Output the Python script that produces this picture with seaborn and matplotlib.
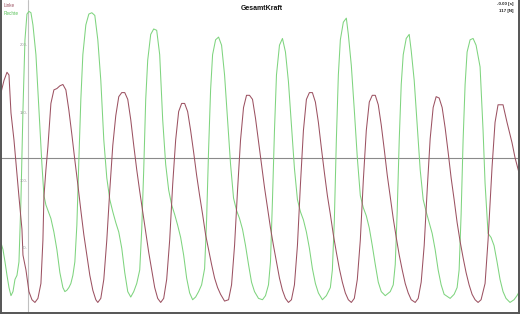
import matplotlib
matplotlib.use("Agg")
import matplotlib.pyplot as plt
import seaborn as sns
import pandas as pd

# time axis in samples, force in N
rechte_t = [0, 2, 4, 6, 8, 10, 12, 14, 16, 18, 20, 22, 24, 26, 28, 30, 32, 35, 38, 41, 43, 45, 47, 50, 53, 56, 59, 62, 64, 66, 68, 70, 72, 74, 76, 78, 80, 82, 85, 88, 91, 94, 97, 100, 103, 106, 109, 112, 115, 118, 121, 124, 127, 130, 133, 136, 139, 141, 143, 145, 147, 150, 153, 156, 159, 162, 165, 168, 171, 174, 177, 180, 183, 186, 189, 192, 195, 198, 201, 204, 206, 208, 210, 212, 215, 218, 221, 224, 227, 230, 233, 236, 239, 242, 245, 248, 251, 254, 258, 262, 265, 268, 270, 272, 274, 276, 279, 282, 285, 288, 291, 294, 297, 300, 303, 306, 309, 312, 315, 318, 322, 326, 330, 332, 334, 336, 338, 340, 343, 346, 348, 351, 354, 357, 360, 363, 366, 369, 372, 375, 378, 381, 385, 390, 393, 395, 397, 399, 401, 403, 406, 409, 411, 414, 417, 420, 423, 426, 429, 432, 435, 438, 441, 444, 450, 454, 457, 459, 461, 463, 465, 467, 470, 473, 476, 480, 483, 485, 488, 491, 494, 497, 500, 503, 506, 510, 514, 517, 520]
rechte_f = [54, 49, 40, 30, 21, 15, 18, 27, 30, 40, 86, 152, 204, 223, 225, 224, 215, 193, 152, 112, 89, 82, 78, 72, 62, 49, 32, 21, 18, 19, 21, 24, 30, 40, 67, 115, 160, 193, 215, 223, 224, 222, 204, 174, 130, 102, 86, 77, 69, 62, 50, 32, 18, 14, 18, 24, 34, 64, 108, 160, 189, 208, 212, 211, 193, 145, 112, 93, 82, 75, 67, 58, 45, 28, 17, 12, 14, 18, 23, 35, 71, 123, 167, 193, 204, 206, 200, 178, 145, 112, 87, 78, 72, 64, 52, 38, 25, 18, 13, 12, 15, 23, 40, 86, 137, 178, 200, 205, 195, 173, 141, 109, 86, 77, 71, 62, 50, 35, 24, 17, 12, 15, 21, 34, 71, 130, 178, 204, 217, 220, 208, 185, 152, 117, 89, 80, 74, 65, 52, 38, 25, 18, 15, 18, 23, 38, 78, 130, 171, 193, 205, 208, 196, 174, 141, 108, 86, 77, 69, 61, 49, 34, 23, 16, 13, 16, 21, 34, 75, 130, 171, 195, 204, 205, 200, 184, 137, 98, 61, 58, 52, 40, 27, 18, 13, 10, 12, 15, 19]

linke_t = [0, 3, 6, 8, 10, 13, 15, 18, 21, 22, 25, 28, 31, 34, 37, 40, 42, 43, 45, 47, 50, 53, 56, 59, 62, 65, 68, 71, 74, 77, 80, 83, 86, 89, 92, 95, 97, 100, 103, 106, 109, 112, 115, 118, 121, 124, 127, 130, 133, 136, 139, 142, 145, 148, 151, 154, 157, 160, 163, 166, 169, 172, 175, 178, 181, 184, 187, 190, 193, 196, 199, 202, 205, 208, 211, 214, 217, 220, 224, 228, 231, 234, 237, 240, 243, 246, 249, 252, 255, 258, 261, 264, 267, 270, 273, 276, 279, 282, 285, 288, 291, 294, 297, 300, 303, 306, 309, 312, 315, 318, 321, 324, 327, 330, 333, 336, 339, 342, 345, 348, 351, 354, 357, 360, 363, 366, 369, 372, 375, 378, 381, 384, 387, 390, 393, 396, 399, 402, 405, 408, 411, 415, 418, 421, 424, 427, 430, 433, 436, 439, 442, 445, 448, 451, 454, 457, 460, 463, 466, 469, 472, 475, 478, 481, 485, 488, 492, 495, 498, 503, 507, 512, 515, 520]
linke_f = [165, 174, 180, 178, 150, 130, 113, 88, 64, 45, 34, 18, 12, 10, 13, 24, 56, 88, 108, 125, 157, 167, 168, 170, 171, 167, 152, 134, 115, 97, 78, 60, 45, 30, 19, 12, 10, 13, 27, 56, 93, 126, 148, 162, 165, 165, 160, 145, 126, 108, 92, 77, 62, 47, 34, 21, 13, 10, 13, 27, 56, 97, 130, 151, 157, 157, 151, 137, 121, 104, 89, 75, 60, 49, 38, 28, 21, 16, 11, 12, 23, 52, 93, 130, 154, 163, 163, 160, 146, 129, 112, 95, 80, 65, 52, 40, 28, 19, 13, 10, 12, 23, 52, 97, 137, 160, 165, 165, 158, 143, 124, 106, 89, 75, 60, 47, 35, 25, 17, 12, 10, 13, 27, 56, 100, 137, 158, 163, 163, 156, 141, 123, 104, 88, 72, 58, 45, 34, 24, 17, 12, 10, 13, 25, 52, 93, 131, 154, 162, 161, 154, 139, 121, 102, 86, 69, 55, 43, 32, 23, 16, 12, 10, 12, 24, 56, 110, 143, 156, 156, 143, 128, 117, 103]

yticks = [200, 150, 100, 50]
cursor_t = 27
cursor_f = 117
title = "GesamtKraft"
series_names = ["Linke", "Rechte"]
colors = {"Linke": "#9c5262", "Rechte": "#7fd47f"}

df = pd.concat([
    pd.DataFrame({"t": linke_t, "F": linke_f, "Seite": "Linke"}),
    pd.DataFrame({"t": rechte_t, "F": rechte_f, "Seite": "Rechte"}),
])

sns.set_style("white")
plt.rcParams["font.family"] = ["Liberation Sans", "DejaVu Sans"]

fig = plt.figure(figsize=(5.21, 3.14), dpi=100)
ax = fig.add_axes([1 / 521, 1 / 314, 518 / 521, 313 / 314])

sns.lineplot(data=df, x="t", y="F", hue="Seite", palette=colors,
             hue_order=["Rechte", "Linke"], lw=0.75, ax=ax, legend=False,
             estimator=None, sort=False)

ax.set_xlim(0, 519)
ax.set_ylim(2.2, 233.4)
ax.set_xticks([])
ax.set_yticks([])
ax.set_xlabel("")
ax.set_ylabel("")
for s in ["left", "bottom", "right"]:
    ax.spines[s].set_color("#555555")
    ax.spines[s].set_linewidth(1.4)
ax.spines["top"].set_visible(False)

ax.axvline(cursor_t, color="#c0c0c0", lw=0.8, zorder=0)
ax.axhline(cursor_f, color="#8a8a8a", lw=0.8, zorder=0)
for v in yticks:
    ax.text(cursor_t, v, f"{v}-", fontsize=3, color="#999999",
            ha="right", va="center")

ax.text(0.006, 0.99, series_names[0], transform=ax.transAxes, fontsize=3.3,
        color=colors["Linke"], ha="left", va="top")
ax.text(0.006, 0.965, series_names[1], transform=ax.transAxes, fontsize=3.3,
        color="#55c055", ha="left", va="top")
ax.text(262 / 521, 0.985, title, transform=ax.transAxes, fontsize=5,
        fontweight="bold", ha="center", va="top", color="#111111")
ax.text(0.99, 0.993, "-0.00 [s]", transform=ax.transAxes, fontsize=3.2,
        fontweight="bold", ha="right", va="top", color="#222222")
ax.text(0.99, 0.972, "117 [N]", transform=ax.transAxes, fontsize=3.2,
        fontweight="bold", ha="right", va="top", color="#222222")

fig.savefig("out.png", dpi=100)
